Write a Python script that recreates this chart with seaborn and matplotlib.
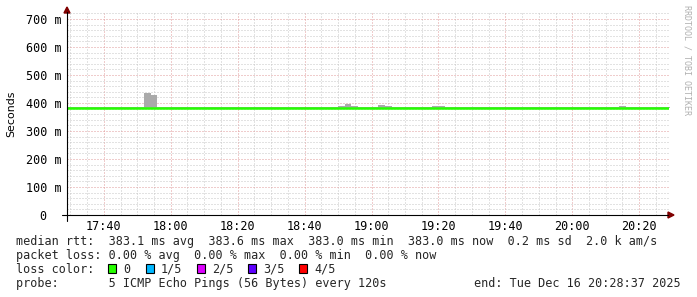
import matplotlib
matplotlib.use("Agg")
import matplotlib.pyplot as plt
import seaborn as sns
import pandas as pd
from matplotlib.lines import Line2D
from matplotlib.patches import Polygon, Rectangle
from matplotlib.ticker import MultipleLocator

# ---------------- data ----------------
# start of each 2-minute step, in minutes after 17:00
bin_minutes = [
    28, 30, 32, 34, 36, 38, 40, 42, 44, 46,
    48, 50, 52, 54, 56, 58, 60, 62, 64, 66,
    68, 70, 72, 74, 76, 78, 80, 82, 84, 86,
    88, 90, 92, 94, 96, 98, 100, 102, 104, 106,
    108, 110, 112, 114, 116, 118, 120, 122, 124, 126,
    128, 130, 132, 134, 136, 138, 140, 142, 144, 146,
    148, 150, 152, 154, 156, 158, 160, 162, 164, 166,
    168, 170, 172, 174, 176, 178, 180, 182, 184, 186,
    188, 190, 192, 194, 196, 198, 200, 202, 204, 206,
    208,
]
# median round trip time (ms)
median_ms = [
    383.0, 383.0, 382.6, 382.6, 383.0, 383.0, 382.6, 383.0, 383.0, 382.6,
    382.6, 382.6, 383.4, 383.2, 383.0, 383.0, 382.6, 382.6, 382.6, 382.6,
    382.6, 382.6, 382.6, 383.0, 383.0, 382.6, 382.6, 382.6, 382.6, 382.6,
    383.0, 383.0, 383.0, 383.0, 383.0, 383.0, 383.0, 383.0, 383.0, 383.0,
    383.0, 383.1, 383.2, 383.1, 383.0, 383.0, 383.0, 383.2, 383.1, 383.3,
    383.3, 383.0, 383.0, 383.0, 383.0, 383.1, 383.1, 383.0, 383.0, 383.0,
    383.0, 383.0, 383.0, 383.0, 383.0, 383.0, 383.0, 383.0, 383.0, 383.0,
    383.0, 383.0, 383.0, 383.0, 383.0, 383.0, 383.0, 383.0, 383.0, 383.0,
    383.0, 383.0, 383.0, 383.1, 383.0, 383.0, 383.0, 383.0, 383.0, 383.0,
    383.0,
]
# smoke: slowest ping of each step (ms)
smoke_max_ms = [
    384.0, 384.0, 384.0, 384.0, 384.0, 384.0, 384.0, 384.0, 384.0, 384.0,
    384.0, 384.0, 436.0, 427.0, 384.0, 384.0, 384.0, 384.0, 384.0, 384.0,
    384.0, 384.0, 384.0, 384.0, 384.0, 384.0, 384.0, 384.0, 384.0, 384.0,
    384.0, 384.0, 384.0, 384.0, 384.0, 384.0, 384.0, 384.0, 384.0, 384.0,
    384.0, 389.0, 396.0, 389.0, 384.0, 384.0, 384.0, 393.0, 389.0, 384.0,
    384.0, 384.0, 384.0, 384.0, 384.0, 389.0, 389.0, 384.0, 384.0, 384.0,
    384.0, 384.0, 384.0, 384.0, 384.0, 384.0, 384.0, 384.0, 384.0, 384.0,
    384.0, 384.0, 384.0, 384.0, 384.0, 384.0, 384.0, 384.0, 384.0, 384.0,
    384.0, 384.0, 384.0, 388.0, 384.0, 384.0, 384.0, 384.0, 384.0, 384.0,
    384.0,
]
# smoke: fastest ping of each step (ms)
smoke_min_ms = [
    382.0, 382.0, 382.0, 382.0, 382.0, 382.0, 382.0, 382.0, 382.0, 382.0,
    382.0, 382.0, 382.0, 382.0, 382.0, 382.0, 382.0, 382.0, 382.0, 382.0,
    382.0, 382.0, 382.0, 382.0, 382.0, 382.0, 382.0, 382.0, 382.0, 382.0,
    382.0, 382.0, 382.0, 382.0, 382.0, 382.0, 382.0, 382.0, 382.0, 382.0,
    382.0, 382.0, 382.0, 382.0, 382.0, 382.0, 382.0, 382.0, 382.0, 382.0,
    382.0, 382.0, 382.0, 382.0, 382.0, 382.0, 382.0, 382.0, 382.0, 382.0,
    382.0, 382.0, 382.0, 382.0, 382.0, 382.0, 382.0, 382.0, 382.0, 382.0,
    382.0, 382.0, 382.0, 382.0, 382.0, 382.0, 382.0, 382.0, 382.0, 382.0,
    382.0, 382.0, 382.0, 382.0, 382.0, 382.0, 382.0, 382.0, 382.0, 382.0,
    382.0,
]
x_tick_minutes = [40, 60, 80, 100, 120, 140, 160, 180, 200]
x_tick_labels = ["17:40", "18:00", "18:20", "18:40", "19:00", "19:20", "19:40", "20:00", "20:20"]
y_tick_values = [0, 100, 200, 300, 400, 500, 600, 700]
y_tick_labels = ["0  ", "100 m", "200 m", "300 m", "400 m", "500 m", "600 m", "700 m"]

loss_labels = ["0", "1/5", "2/5", "3/5", "4/5"]
loss_colors = ["#26ff00", "#00b8ff", "#dd00ff", "#5e00ff", "#ff0000"]

legend_rtt = "median rtt:  383.1 ms avg  383.6 ms max  383.0 ms min  383.0 ms now  0.2 ms sd  2.0 k am/s"
legend_loss = "packet loss: 0.00 % avg  0.00 % max  0.00 % min  0.00 % now"
legend_probe = "probe:       5 ICMP Echo Pings (56 Bytes) every 120s"
legend_end = "end: Tue Dec 16 20:28:37 2025"

# ---------------- figure ----------------
sns.set_style("white")
MONO = ["DejaVu Sans Mono"]
plt.rcParams["font.family"] = ["DejaVu Sans"]

W, H = 697, 297
fig = plt.figure(figsize=(W / 100, H / 100), dpi=100)
fig.patch.set_facecolor("white")


def fx(px):
    return px / W


def fy(py):
    return 1 - py / H


ax_l, ax_r, ax_t, ax_b = 67, 669, 13, 215
ax = fig.add_axes([fx(ax_l), fy(ax_b), (ax_r - ax_l) / W, (ax_b - ax_t) / H])
ax.set_facecolor("white")

# step edges (last step extends to its end)
edges = bin_minutes + [bin_minutes[-1] + 2]
df = pd.DataFrame({
    "t": edges,
    "median": median_ms + [median_ms[-1]],
    "smin": smoke_min_ms + [smoke_min_ms[-1]],
    "smax": smoke_max_ms + [smoke_max_ms[-1]],
})

ax.fill_between(df["t"], df["smin"], df["smax"], step="post",
                color="#aaaaaa", linewidth=0, zorder=3)
sns.lineplot(data=df, x="t", y="median",
             drawstyle="steps-post", color="#26ff00", linewidth=1.8,
             errorbar=None, ax=ax, zorder=4)

ax.set_xlim(29.0, 208.9)
ax.set_ylim(0, (ax_b - ax_t) / 0.28)

# grid
ax.xaxis.set_minor_locator(MultipleLocator(5))
ax.yaxis.set_minor_locator(MultipleLocator(20))
ax.set_xticks(x_tick_minutes)
ax.set_xticklabels(x_tick_labels, family=MONO, fontsize=8.5)
ax.set_yticks(y_tick_values)
ax.set_yticklabels(y_tick_labels, family=MONO, fontsize=8.5)
ax.grid(which="minor", color="#c6c6c6", linestyle=(0, (1, 2)), linewidth=0.72, zorder=1)
ax.grid(which="major", color="#e09a9a", linestyle=(0, (1, 2)), linewidth=0.72, zorder=2)
for gl in ax.get_xgridlines() + ax.get_ygridlines():
    gl.set_snap(True)
ax.set_axisbelow(True)
ax.tick_params(axis="both", which="minor", length=0)
ax.tick_params(axis="x", which="major", length=2.2, width=0.72, color="#e09a9a", pad=1.6, labelcolor="black")
ax.tick_params(axis="y", which="major", length=2.2, width=0.72, color="#e09a9a", pad=2.0, labelcolor="black")
ax.set_xlabel("")
ax.set_ylabel("")
for s in ax.spines.values():
    s.set_visible(False)

# axes lines with arrows
fig.add_artist(Line2D([fx(67), fx(67)], [fy(221), fy(12)], color="black", lw=0.8,
                      transform=fig.transFigure))
fig.add_artist(Line2D([fx(62), fx(668)], [fy(215), fy(215)], color="black", lw=0.8,
                      transform=fig.transFigure))
fig.add_artist(Polygon([[fx(64), fy(13)], [fx(70), fy(13)], [fx(67), fy(7)]],
                       closed=True, color="#7f0000", transform=fig.transFigure))
fig.add_artist(Polygon([[fx(668), fy(212)], [fx(668), fy(218)], [fx(674), fy(215)]],
                       closed=True, color="#7f0000", transform=fig.transFigure))

# y label
fig.text(fx(11), fy(114), "Seconds", rotation=90, ha="center", va="center",
         fontsize=7.9, color="black")

# watermark
fig.text(fx(687), fy(5), "RRDTOOL / TOBI OETIKER", rotation=270, ha="center", va="top",
         family=MONO, fontsize=6.0, color="#b0b0b0")

# legend
fs = 8.5
fig.text(fx(16), fy(245), legend_rtt, family=MONO, fontsize=fs, va="baseline", ha="left")
fig.text(fx(16), fy(259), legend_loss, family=MONO, fontsize=fs, va="baseline", ha="left")
fig.text(fx(16), fy(273), "loss color:", family=MONO, fontsize=fs, va="baseline", ha="left")
box_x = [108, 146, 197, 248, 299]
for bx, lab, col in zip(box_x, loss_labels, loss_colors):
    fig.add_artist(Rectangle((fx(bx), fy(273)), 8 / W, 9 / H, facecolor=col,
                             edgecolor="black", linewidth=0.8, transform=fig.transFigure))
    fig.text(fx(bx + 15), fy(273), lab, family=MONO, fontsize=fs, va="baseline", ha="left")
fig.text(fx(16), fy(287), legend_probe, family=MONO, fontsize=fs, va="baseline", ha="left")
fig.text(fx(681), fy(287), legend_end, family=MONO, fontsize=fs, va="baseline", ha="right")

fig.savefig("out.png", dpi=100, facecolor="white")
